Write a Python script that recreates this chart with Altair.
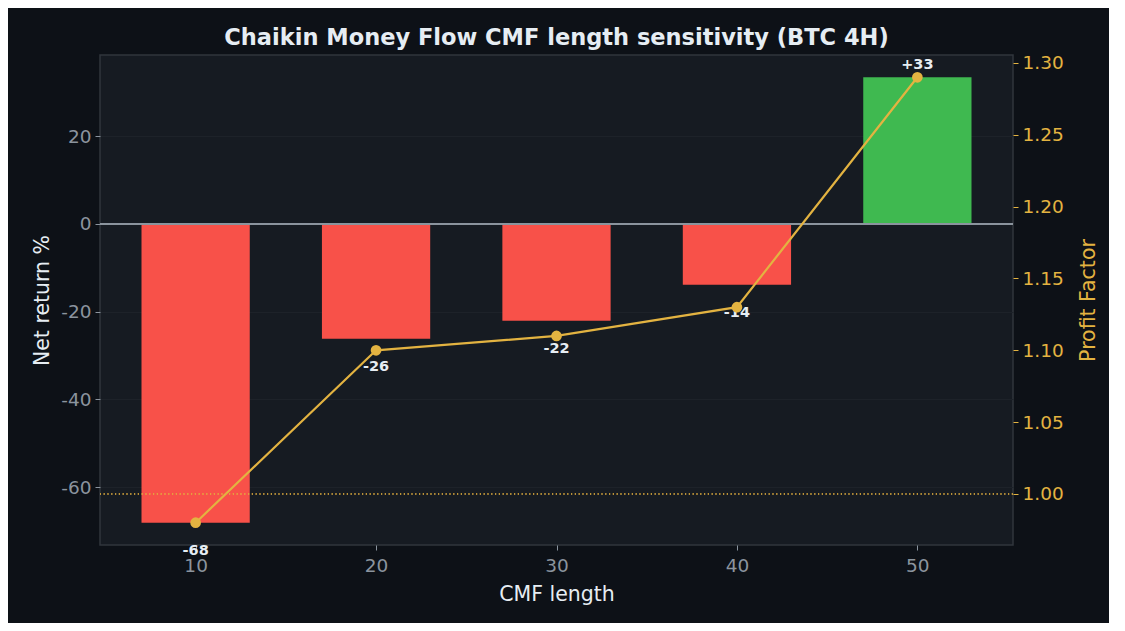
import altair as alt
import pandas as pd

# values
cmf_length = [10, 20, 30, 40, 50]
net_return = [-68.1, -26.2, -22.1, -13.9, 33.4]
profit_factor = [0.98, 1.10, 1.11, 1.13, 1.29]

df = pd.DataFrame({"length": cmf_length, "net": net_return, "pf": profit_factor})

BG = "#0d1117"
PANEL = "#161b22"
GOLD = "#e3b341"
MUTED = "#8b949e"
LIGHT = "#e6edf3"
FONT = "DejaVu Sans"

# plain hyphen instead of the unicode minus d3 puts in
HYPHEN = "replace(datum.label, '\u2212', '-')"

x_scale = alt.Scale(domain=[4.7, 55.3], nice=False, zero=False)
x_axis = alt.Axis(values=cmf_length, title="CMF length", format="d", grid=False,
                  labelPadding=6, titlePadding=10)

base = alt.Chart(df).transform_calculate(
    lo="datum.length - 3",
    hi="datum.length + 3",
    lab="(datum.net > 0 ? '+' : '-') + format(abs(datum.net), '.0f')",
)

bars = base.mark_bar().encode(
    x=alt.X("lo:Q", scale=x_scale, axis=x_axis),
    x2="hi:Q",
    y=alt.Y(
        "net:Q",
        scale=alt.Scale(domain=[-73.2, 38.5], nice=False),
        axis=alt.Axis(
            title="Net return %",
            values=[-60, -40, -20, 0, 20],
            grid=True,
            gridColor="#1d2229",
            orient="left",
            labelExpr=HYPHEN,
        ),
    ),
    y2=alt.datum(0),
    color=alt.condition("datum.net > 0", alt.value("#3fb950"), alt.value("#f85149")),
)

zero = base.mark_rule(color=MUTED, strokeWidth=1.6).encode(y=alt.datum(0))

neg_labels = (
    base.transform_filter("datum.net < 0")
    .mark_text(font=FONT, fontSize=14.5, fontWeight="bold", color=LIGHT, baseline="top", dy=21)
    .encode(x="length:Q", y="net:Q", text="lab:N")
)
pos_labels = (
    base.transform_filter("datum.net >= 0")
    .mark_text(font=FONT, fontSize=14.5, fontWeight="bold", color=LIGHT, baseline="alphabetic", dy=-8)
    .encode(x="length:Q", y="net:Q", text="lab:N")
)

left = alt.layer(bars, zero, neg_labels, pos_labels)

pf_scale = alt.Scale(domain=[0.9645, 1.3055], nice=False, zero=False)
pf_y = alt.Y(
    "pf:Q",
    scale=pf_scale,
    axis=alt.Axis(
        title="Profit Factor",
        orient="right",
        values=[1.0, 1.05, 1.10, 1.15, 1.20, 1.25, 1.30],
        format=".2f",
        grid=False,
        labelColor=GOLD,
        tickColor=GOLD,
        titleColor=GOLD,
        titleAngle=270,
        titleAlign="center",
        titleBaseline="middle",
        titleX=75,
        titleY=245,
    ),
)

pf_ref = alt.Chart(df).mark_rule(color=GOLD, strokeWidth=1, strokeDash=[1.2, 2.6], opacity=0.55).encode(
    y=alt.datum(1.0, scale=pf_scale)
)
pf_line = alt.Chart(df).mark_line(color=GOLD, strokeWidth=2.2).encode(x="length:Q", y=pf_y)
pf_pts = alt.Chart(df).mark_point(filled=True, color=GOLD, size=115, opacity=1).encode(x="length:Q", y="pf:Q")

right = alt.layer(pf_line, pf_ref, pf_pts)

chart = (
    alt.layer(left, right)
    .resolve_scale(y="independent")
    .properties(
        width=913,
        height=490,
        background=BG,
        autosize=alt.AutoSizeParams(type="none"),
        padding={"left": 92, "top": 47, "right": 96, "bottom": 78},
        title=alt.TitleParams(
            "Chaikin Money Flow CMF length sensitivity (BTC 4H)",
            font=FONT,
            fontSize=22.5,
            fontWeight="bold",
            color=LIGHT,
            offset=4,
        ),
    )
    .configure_view(fill=PANEL, stroke="#30363d", strokeWidth=1.5)
    .configure_axis(
        domain=False,
        labelFont=FONT,
        labelFontSize=18.5,
        labelColor=MUTED,
        tickColor=MUTED,
        tickSize=5,
        labelPadding=4,
        titleFont=FONT,
        titleFontSize=20.5,
        titleFontWeight="normal",
        titleColor=LIGHT,
        titlePadding=8,
    )
)

chart.save("out.html", embed_options={"renderer": "svg", "actions": False})
